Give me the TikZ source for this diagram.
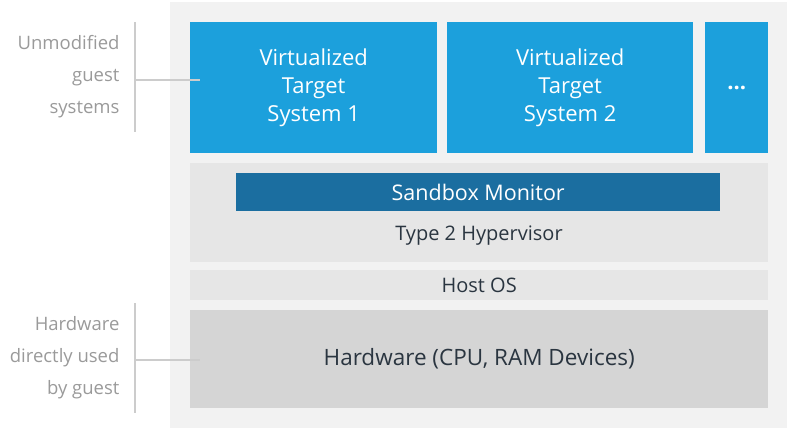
\documentclass[tikz,border=0pt]{standalone}
\usepackage{fontspec}
\setmainfont{Open Sans}
\definecolor{panel}{HTML}{F2F2F2}
\definecolor{band}{HTML}{E6E6E6}
\definecolor{hw}{HTML}{D5D5D5}
\definecolor{vblue}{HTML}{1CA0DC}
\definecolor{dblue}{HTML}{1B6EA0}
\definecolor{lbl}{HTML}{9A9A9A}
\definecolor{txt}{HTML}{2A3540}
\begin{document}
\begin{tikzpicture}[x=1pt,y=-1pt,
  box/.style={draw=none,anchor=north west,inner sep=0},
  vm/.style={box,fill=vblue,text=white,font=\fontsize{22}{28}\selectfont,align=center},
  side/.style={text=lbl,font=\fontsize{18.5}{32}\selectfont,align=right,anchor=east},
  brk/.style={draw=lbl!50,line width=1.2pt}]
\useasboundingbox (0,0) rectangle (794,431);
\fill[panel] (170,2) rectangle (787,428);
\node[vm,minimum width=247,minimum height=131] (v1) at (190,22) {Virtualized\\Target\\System 1};
\node[vm,minimum width=246,minimum height=131] (v2) at (447,22) {Virtualized\\Target\\System 2};
\node[vm,minimum width=63,minimum height=131] (v3) at (705,22) {\textbf{...}};
\node[box,fill=band,minimum width=578,minimum height=99] (hyp) at (190,163) {};
\node[box,fill=dblue,text=white,minimum width=484,minimum height=38,font=\fontsize{21.5}{24}\selectfont] (sm) at (236,173) {Sandbox Monitor};
\node[text=txt,font=\fontsize{20}{24}\selectfont] (hl) at (479,236) {Type 2 Hypervisor};
\node[box,fill=band,minimum width=578,minimum height=30,text=txt,font=\fontsize{20}{24}\selectfont] (os) at (190,270) {Host OS};
\node[box,fill=hw,minimum width=578,minimum height=98,text=txt,font=\fontsize{22.5}{26}\selectfont] (hw) at (190,310) {Hardware (CPU, RAM Devices)};
\node[side] (l1) at (123,77) {Unmodified\\guest\\systems};
\node[side] (l2) at (123,358) {Hardware\\directly used\\by guest};
\draw[brk] (135,22) -- (135,132);
\draw[brk] (135,80) -- (200,80);
\draw[brk] (135,303) -- (135,413);
\draw[brk] (135,360) -- (200,360);
\end{tikzpicture}
\end{document}
